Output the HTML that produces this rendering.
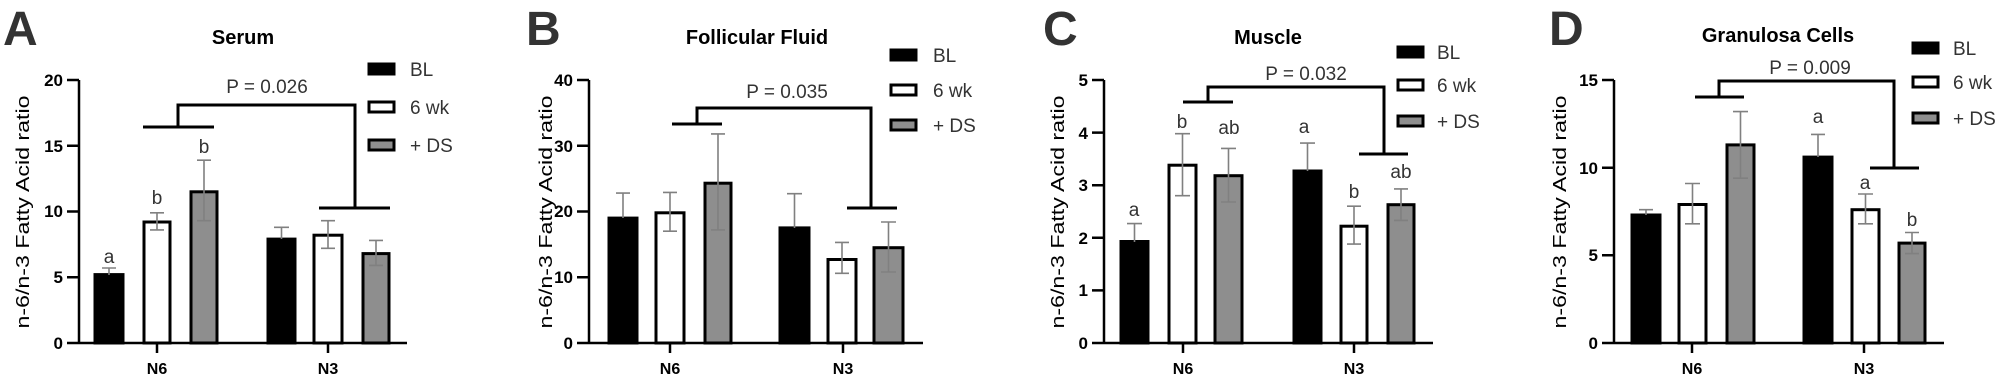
<!DOCTYPE html>
<html><head><meta charset="utf-8"><style>
html,body{margin:0;padding:0;background:#fff;}
svg{display:block;font-family:"Liberation Sans",Arial,sans-serif;}
.ax{stroke:#000;stroke-width:2.5;fill:none}
.br{stroke:#000;stroke-width:3;fill:none}
.e{stroke:#808080;stroke-width:1.6;fill:none}
.tk{font-size:17px;font-weight:bold;text-anchor:end}
.xl{font-size:16px;font-weight:bold;text-anchor:middle}
.ti{font-size:20px;font-weight:bold;text-anchor:middle}
.pl{font-size:48px;font-weight:bold;fill:#333}
.lg{font-size:19px;fill:#333}
.p{font-size:19px;fill:#333;text-anchor:middle}
.lt{font-size:19px;fill:#333;text-anchor:middle}
.yl{font-size:18px;text-anchor:middle}
.k{fill:#000;stroke:#000;stroke-width:3}
.w{fill:#fff;stroke:#000;stroke-width:3}
.g{fill:#8e8e8e;stroke:#000;stroke-width:3}
</style></head><body>
<svg width="2008" height="380" viewBox="0 0 2008 380" xmlns="http://www.w3.org/2000/svg">
<!-- Panel A -->
<text class="pl" x="3" y="45">A</text>
<text class="ti" x="243" y="44">Serum</text>
<text class="yl" transform="translate(29,212) rotate(-90)" textLength="233" lengthAdjust="spacingAndGlyphs">n-6/n-3 Fatty Acid ratio</text>
<path class="ax" d="M79,80V343H407M67,80H79M67,145.75H79M67,211.5H79M67,277.25H79M67,343H79M157,343v10M328,343v10"/>
<text class="tk" x="63" y="86">20</text><text class="tk" x="63" y="152">15</text><text class="tk" x="63" y="217">10</text><text class="tk" x="63" y="283">5</text><text class="tk" x="63" y="349">0</text>
<text class="xl" x="157" y="374">N6</text><text class="xl" x="328" y="374">N3</text>
<rect class="k" x="95" y="274.6" width="28" height="68.4"/>
<rect class="w" x="144" y="222" width="26" height="121"/>
<rect class="g" x="191" y="191.8" width="26" height="151.2"/>
<rect class="k" x="268" y="239.1" width="27" height="103.9"/>
<rect class="w" x="314" y="235.2" width="28" height="107.8"/>
<rect class="g" x="363" y="253.6" width="26" height="89.4"/>
<path class="e" d="M109,268V275M102,268H116M157,212.8V229.9M150,212.8H164M150,229.9H164M204,160.2V220.7M197,160.2H211M197,220.7H211M281.5,227.3V239M274,227.3H289M328,220.7V248.3M321,220.7H335M321,248.3H335M376,240.4V265.4M369,240.4H383M369,265.4H383"/>
<text class="lt" x="109" y="263">a</text><text class="lt" x="157" y="204">b</text><text class="lt" x="204" y="153">b</text>
<path class="br" d="M143,127H214M178,127V105H355V208M319,208H390"/>
<text class="p" x="267" y="93">P = 0.026</text>
<rect class="k" x="369" y="64" width="25" height="10"/><text class="lg" x="410" y="76">BL</text>
<rect class="w" x="369" y="102" width="25" height="10"/><text class="lg" x="410" y="114">6 wk</text>
<rect class="g" x="369" y="140" width="25" height="10"/><text class="lg" x="410" y="152">+ DS</text>

<!-- Panel B -->
<text class="pl" x="526" y="45">B</text>
<text class="ti" x="757" y="44">Follicular Fluid</text>
<text class="yl" transform="translate(552,212) rotate(-90)" textLength="233" lengthAdjust="spacingAndGlyphs">n-6/n-3 Fatty Acid ratio</text>
<path class="ax" d="M589,80V343H923M577,80H589M577,145.75H589M577,211.5H589M577,277.25H589M577,343H589M670,343v10M843,343v10"/>
<text class="tk" x="573" y="86">40</text><text class="tk" x="573" y="152">30</text><text class="tk" x="573" y="217">20</text><text class="tk" x="573" y="283">10</text><text class="tk" x="573" y="349">0</text>
<text class="xl" x="670" y="374">N6</text><text class="xl" x="843" y="374">N3</text>
<rect class="k" x="609" y="218.1" width="28" height="124.9"/>
<rect class="w" x="656" y="212.8" width="28" height="130.2"/>
<rect class="g" x="705" y="183.2" width="26" height="159.8"/>
<rect class="k" x="780" y="227.9" width="29" height="115.1"/>
<rect class="w" x="828" y="259.5" width="28" height="83.5"/>
<rect class="g" x="874" y="247.7" width="29" height="95.3"/>
<path class="e" d="M623,193.1V218M616,193.1H630M670,192.4V231.2M663,192.4H677M663,231.2H677M718,133.9V229.9M711,133.9H725M711,229.9H725M794.5,193.7V228M787,193.7H802M842,242.4V273.3M835,242.4H849M835,273.3H849M888.5,222V272M881,222H896M881,272H896"/>
<path class="br" d="M672,124H722M697,124V108H871V208M847,208H897"/>
<text class="p" x="787" y="98">P = 0.035</text>
<rect class="k" x="891" y="50" width="25" height="10"/><text class="lg" x="933" y="62">BL</text>
<rect class="w" x="891" y="85" width="25" height="10"/><text class="lg" x="933" y="97">6 wk</text>
<rect class="g" x="891" y="120" width="25" height="10"/><text class="lg" x="933" y="132">+ DS</text>

<!-- Panel C -->
<text class="pl" x="1043" y="45">C</text>
<text class="ti" x="1268" y="44">Muscle</text>
<text class="yl" transform="translate(1064,212) rotate(-90)" textLength="233" lengthAdjust="spacingAndGlyphs">n-6/n-3 Fatty Acid ratio</text>
<path class="ax" d="M1104,80V343H1433M1092,80H1104M1092,132.6H1104M1092,185.2H1104M1092,237.8H1104M1092,290.4H1104M1092,343H1104M1183,343v10M1354,343v10"/>
<text class="tk" x="1088" y="86">5</text><text class="tk" x="1088" y="139">4</text><text class="tk" x="1088" y="191">3</text><text class="tk" x="1088" y="244">2</text><text class="tk" x="1088" y="296">1</text><text class="tk" x="1088" y="349">0</text>
<text class="xl" x="1183" y="374">N6</text><text class="xl" x="1354" y="374">N3</text>
<rect class="k" x="1121" y="241.5" width="27" height="101.5"/>
<rect class="w" x="1169" y="165.2" width="27" height="177.8"/>
<rect class="g" x="1215" y="175.7" width="27" height="167.3"/>
<rect class="k" x="1294" y="171" width="27" height="172"/>
<rect class="w" x="1341" y="226.2" width="26" height="116.8"/>
<rect class="g" x="1388" y="204.7" width="26" height="138.3"/>
<path class="e" d="M1134.5,223.6V242M1127,223.6H1142M1182.5,133.7V195.7M1175,133.7H1190M1175,195.7H1190M1228.5,148.4V202M1221,148.4H1236M1221,202H1236M1307.5,143.1V171M1300,143.1H1315M1354,206.2V244.1M1347,206.2H1361M1347,244.1H1361M1401,188.9V220.4M1394,188.9H1408M1394,220.4H1408"/>
<text class="lt" x="1134" y="216">a</text><text class="lt" x="1182" y="128">b</text><text class="lt" x="1229" y="134">ab</text><text class="lt" x="1304" y="133">a</text><text class="lt" x="1354" y="198">b</text><text class="lt" x="1401" y="178">ab</text>
<path class="br" d="M1183,102H1233M1208,102V87H1384V154M1359,154H1408"/>
<text class="p" x="1306" y="80">P = 0.032</text>
<rect class="k" x="1398" y="47" width="25" height="10"/><text class="lg" x="1437" y="59">BL</text>
<rect class="w" x="1398" y="80" width="25" height="10"/><text class="lg" x="1437" y="92">6 wk</text>
<rect class="g" x="1398" y="116" width="25" height="10"/><text class="lg" x="1437" y="128">+ DS</text>

<!-- Panel D -->
<text class="pl" x="1549" y="45">D</text>
<text class="ti" x="1778" y="42">Granulosa Cells</text>
<text class="yl" transform="translate(1566,212) rotate(-90)" textLength="233" lengthAdjust="spacingAndGlyphs">n-6/n-3 Fatty Acid ratio</text>
<path class="ax" d="M1614,80V343H1944M1602,80H1614M1602,167.7H1614M1602,255.3H1614M1602,343H1614M1692,343v10M1864,343v10"/>
<text class="tk" x="1598" y="86">15</text><text class="tk" x="1598" y="174">10</text><text class="tk" x="1598" y="261">5</text><text class="tk" x="1598" y="349">0</text>
<text class="xl" x="1692" y="374">N6</text><text class="xl" x="1864" y="374">N3</text>
<rect class="k" x="1632" y="215" width="28" height="128"/>
<rect class="w" x="1679" y="204.5" width="27" height="138.5"/>
<rect class="g" x="1727" y="144.9" width="27" height="198.1"/>
<rect class="k" x="1804" y="157.1" width="28" height="185.9"/>
<rect class="w" x="1852" y="209.7" width="27" height="133.3"/>
<rect class="g" x="1899" y="243.1" width="26" height="99.9"/>
<path class="e" d="M1646,209.7V215M1639,209.7H1653M1692.5,183.5V223.8M1685,183.5H1700M1685,223.8H1700M1740.5,111.6V178.2M1733,111.6H1748M1733,178.2H1748M1818,134.4V157M1811,134.4H1825M1865.5,194V223.8M1858,194H1873M1858,223.8H1873M1912,232.5V253.6M1905,232.5H1919M1905,253.6H1919"/>
<text class="lt" x="1818" y="123">a</text><text class="lt" x="1865" y="189">a</text><text class="lt" x="1912" y="226">b</text>
<path class="br" d="M1695,97H1744M1719,97V81H1894V168M1870,168H1919"/>
<text class="p" x="1810" y="74">P = 0.009</text>
<rect class="k" x="1913" y="43" width="25" height="10"/><text class="lg" x="1953" y="55">BL</text>
<rect class="w" x="1913" y="77" width="25" height="10"/><text class="lg" x="1953" y="89">6 wk</text>
<rect class="g" x="1913" y="113" width="25" height="10"/><text class="lg" x="1953" y="125">+ DS</text>
</svg>
</body></html>
